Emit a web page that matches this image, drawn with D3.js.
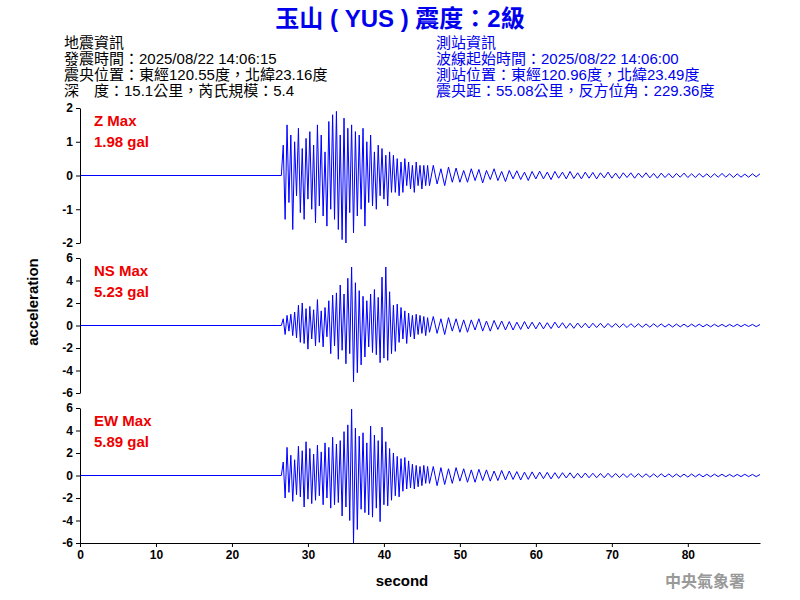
<!DOCTYPE html>
<html><head><meta charset="utf-8">
<script src="https://cdn.jsdelivr.net/npm/d3@7"></script>
<style>body{margin:0;background:#fff}text{font-family:"Liberation Sans","Noto Sans CJK TC",sans-serif}</style>
</head><body><div id="chart"></div>
<script>
// strong-motion part: samples every 0.25 s starting at 26.5 s, tail: every 0.5 s after
const onset = 26.5;
const zStrong = [0.9,-1.3,1.5,-0.8,1.2,-1.6,1.0,-0.6,1.4,-1.1,0.8,-1.3,1.1,-0.7,1.3,-1.0,0.9,-1.4,1.5,-0.9,1.2,-1.2,0.7,-1.5,1.6,-1.0,1.8,-1.3,1.9,-1.6,1.2,-1.9,1.7,-2.0,1.4,-1.1,1.5,-1.7,1.3,-1.2,1.2,-1.0,1.4,-1.5,1.0,-0.8,1.2,-0.9,0.7,-1.0,0.9,-0.6,0.8,-0.7,0.6,-0.9,0.7,-0.5,0.6,-0.5,0.5,-0.6,0.4,-0.5,0.5,-0.3,0.4,-0.4,0.3,-0.5,0.4,-0.3,0.3,-0.4,0.3,-0.3,0.3,-0.3];
const zTail = [0.3,-0.25,0.2,-0.3,0.25,-0.2,0.22,-0.2,0.15,-0.2,0.2,-0.15,0.18,-0.22,0.15,-0.12,0.2,-0.15,0.12,-0.18,0.15,-0.1,0.14,-0.12,0.1,-0.15,0.12,-0.1,0.13,-0.1,0.1,-0.12,0.12,-0.08,0.1,-0.1,0.12,-0.09,0.08,-0.1,0.1,-0.08,0.09,-0.1,0.08,-0.07,0.1,-0.08,0.07,-0.09,0.08,-0.06,0.08,-0.08,0.07,-0.06,0.08,-0.07,0.06,-0.08,0.07,-0.06,0.06,-0.07,0.06,-0.05,0.07,-0.06,0.05,-0.06,0.06,-0.05,0.05,-0.06,0.05,-0.05,0.06,-0.05,0.05,-0.06,0.05,-0.05,0.04,-0.05,0.05,-0.04,0.05,-0.05];
const nsStrong = [0.6,-0.8,0.9,-0.5,1.0,-0.9,1.2,-1.1,1.8,-1.5,2.0,-1.6,1.5,-2.1,1.7,-1.2,1.4,-1.8,2.3,-1.5,1.3,-1.9,1.6,-1.0,2.2,-2.5,2.7,-1.8,2.9,-3.0,3.6,-2.2,2.8,-3.4,4.2,-2.5,5.2,-5.0,3.8,-4.2,3.1,-3.5,2.6,-2.8,2.2,-1.9,2.8,-2.4,3.2,-2.6,2.5,-3.3,4.3,-2.9,5.2,-3.1,3.0,-2.5,1.8,-2.3,1.9,-1.5,1.6,-1.2,1.3,-1.6,1.1,-1.0,0.9,-1.2,1.0,-0.8,0.9,-0.7,0.8,-0.9,0.7,-0.6];
const nsTail = [0.8,-0.7,0.6,-0.8,0.7,-0.5,0.6,-0.6,0.5,-0.6,0.5,-0.4,0.6,-0.5,0.4,-0.5,0.45,-0.35,0.4,-0.4,0.35,-0.4,0.3,-0.35,0.35,-0.3,0.3,-0.3,0.28,-0.3,0.25,-0.28,0.3,-0.22,0.25,-0.25,0.2,-0.25,0.22,-0.2,0.2,-0.22,0.2,-0.18,0.2,-0.2,0.18,-0.16,0.18,-0.18,0.15,-0.18,0.16,-0.15,0.15,-0.16,0.14,-0.15,0.15,-0.13,0.14,-0.14,0.12,-0.14,0.13,-0.12,0.12,-0.13,0.12,-0.11,0.12,-0.12,0.1,-0.12,0.11,-0.1,0.1,-0.11,0.1,-0.1,0.11,-0.1,0.1,-0.09,0.1,-0.1,0.09,-0.1,0.1,-0.09];
const ewStrong = [1.2,-2.0,2.5,-1.5,1.8,-2.3,1.4,-1.7,2.6,-1.9,2.2,-2.8,3.0,-2.1,2.4,-2.5,1.9,-2.2,2.7,-1.8,2.1,-2.6,2.9,-2.0,2.5,-2.9,3.4,-2.6,2.8,-2.4,3.1,-3.6,3.9,-2.8,4.5,-4.0,5.9,-6.0,4.2,-4.8,3.5,-3.0,3.8,-3.3,2.9,-3.5,4.4,-3.7,3.6,-2.9,3.1,-4.1,4.3,-2.6,3.0,-2.7,2.4,-2.2,2.0,-1.8,1.7,-1.9,1.5,-1.4,1.6,-1.2,1.3,-1.1,1.0,-1.2,0.9,-1.0,0.8,-0.9,0.9,-0.7,0.8,-0.7];
const ewTail = [0.8,-0.9,0.7,-0.8,0.6,-0.7,0.7,-0.5,0.6,-0.6,0.5,-0.6,0.55,-0.45,0.5,-0.5,0.4,-0.45,0.45,-0.4,0.4,-0.35,0.35,-0.4,0.3,-0.35,0.32,-0.3,0.3,-0.28,0.28,-0.3,0.25,-0.26,0.25,-0.22,0.24,-0.24,0.2,-0.22,0.22,-0.2,0.2,-0.2,0.18,-0.2,0.2,-0.17,0.18,-0.18,0.16,-0.18,0.17,-0.15,0.16,-0.16,0.15,-0.15,0.14,-0.15,0.15,-0.13,0.14,-0.14,0.13,-0.13,0.12,-0.14,0.13,-0.12,0.12,-0.12,0.11,-0.12,0.12,-0.1,0.11,-0.11,0.1,-0.11,0.1,-0.1,0.11,-0.1,0.1,-0.1,0.09,-0.1,0.1,-0.09];

const panels = [
  {name: "Z Max", max: "1.98 gal", strong: zStrong, tail: zTail, dom: [-2, 2], ticks: [-2,-1,0,1,2], top: 108},
  {name: "NS Max", max: "5.23 gal", strong: nsStrong, tail: nsTail, dom: [-6, 6], ticks: [-6,-4,-2,0,2,4,6], top: 258},
  {name: "EW Max", max: "5.89 gal", strong: ewStrong, tail: ewTail, dom: [-6, 6], ticks: [-6,-4,-2,0,2,4,6], top: 408}
];
const xTicks = [0,10,20,30,40,50,60,70,80];
const leftInfo = ["地震資訊", "發震時間：2025/08/22 14:06:15", "震央位置：東經120.55度，北緯23.16度", "深　度：15.1公里，芮氏規模：5.4"];
const rightInfo = ["測站資訊", "波線起始時間：2025/08/22 14:06:00", "測站位置：東經120.96度，北緯23.49度", "震央距：55.08公里，反方位角：229.36度"];

const W = 800, H = 600, ph = 135, tEnd = 89.5;
const svg = d3.select("#chart").append("svg").attr("width", W).attr("height", H);
const x = d3.scaleLinear().domain([0, tEnd]).range([80, 760]);
const fmt = v => String(v);

svg.append("text").attr("x", 400).attr("y", 27).attr("text-anchor", "middle")
  .attr("fill", "#0000ee").attr("font-size", 24).attr("font-weight", "bold")
  .text("玉山 ( YUS ) 震度：2級");

leftInfo.forEach((t, i) => svg.append("text").attr("x", 64).attr("y", 48 + i * 16)
  .attr("font-size", 15).attr("fill", "#000").text(t));
rightInfo.forEach((t, i) => svg.append("text").attr("x", 436).attr("y", 48 + i * 16)
  .attr("font-size", 15).attr("fill", "#0000ee").text(t));

panels.forEach(p => {
  const y = d3.scaleLinear().domain(p.dom).range([p.top + ph, p.top]);
  const pts = [[0, 0], [onset, 0]];
  p.strong.forEach((v, i) => pts.push([onset + (i + 1) * 0.25, v]));
  const t0 = onset + p.strong.length * 0.25;
  p.tail.forEach((v, i) => { const t = t0 + (i + 1) * 0.5; if (t <= tEnd) pts.push([t, v]); });
  svg.append("path").datum(pts).attr("fill", "none").attr("stroke", "#0000ff").attr("stroke-width", 1)
    .attr("d", d3.line().x(d => x(d[0])).y(d => y(d[1])));
  svg.append("g").attr("transform", "translate(80,0)")
    .call(d3.axisLeft(y).tickValues(p.ticks).tickFormat(fmt).tickSize(4).tickSizeOuter(0).tickPadding(3))
    .call(g => g.selectAll("text").attr("font-size", 12).attr("font-weight", "bold"));
  svg.append("text").attr("x", 94).attr("y", p.top + 18).attr("fill", "#ee0000")
    .attr("font-size", 15).attr("font-weight", "bold").text(p.name);
  svg.append("text").attr("x", 94).attr("y", p.top + 39).attr("fill", "#ee0000")
    .attr("font-size", 15).attr("font-weight", "bold").text(p.max);
});

svg.append("g").attr("transform", "translate(0,543)")
  .call(d3.axisBottom(x).tickValues(xTicks).tickSize(4).tickSizeOuter(0))
  .call(g => g.selectAll("text").attr("font-size", 12).attr("font-weight", "bold"));

svg.append("text").attr("x", 402).attr("y", 586).attr("text-anchor", "middle")
  .attr("font-size", 15).attr("font-weight", "bold").text("second");
svg.append("text").attr("transform", "translate(38,302) rotate(-90)").attr("text-anchor", "middle")
  .attr("font-size", 15).attr("font-weight", "bold").text("acceleration");
svg.append("text").attr("x", 745).attr("y", 587).attr("text-anchor", "end")
  .attr("font-size", 16).attr("font-weight", "bold").attr("fill", "#999").text("中央氣象署");
</script></body></html>
